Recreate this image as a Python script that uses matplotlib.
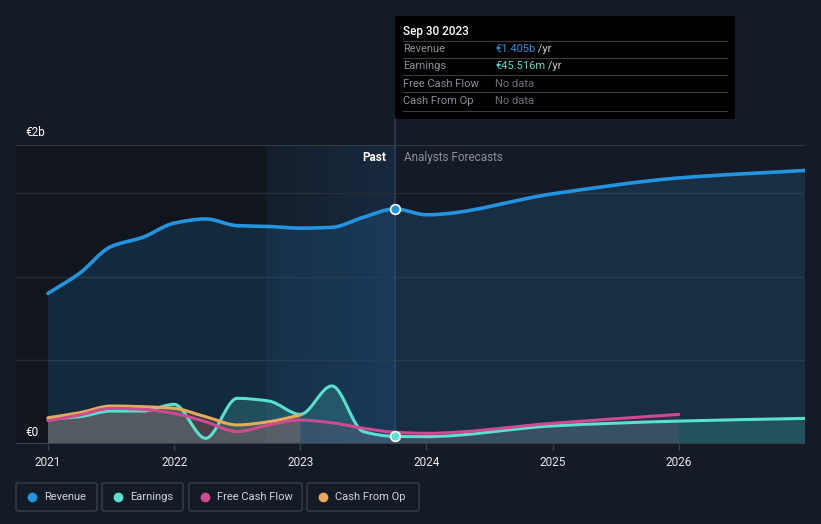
import numpy as np
import matplotlib
matplotlib.use("Agg")
import matplotlib.pyplot as plt
from matplotlib.path import Path
from matplotlib.patches import PathPatch, Rectangle, FancyBboxPatch

plt.rcParams['font.family'] = ['Roboto', 'DejaVu Sans']

# quarterly history (decimal years), values in € billions
past_x = [2021.0, 2021.25, 2021.5, 2021.75, 2022.0, 2022.25, 2022.5, 2022.75,
          2023.0, 2023.25, 2023.5, 2023.75]
revenue_past = [0.90, 1.02, 1.18, 1.235, 1.32, 1.345, 1.305, 1.30, 1.29, 1.295, 1.355, 1.405]
earnings_past = [0.149, 0.163, 0.197, 0.197, 0.237, 0.034, 0.273, 0.257, 0.177, 0.347, 0.074, 0.0455]

cfo_x = [2021.0, 2021.25, 2021.5, 2021.75, 2022.0, 2022.25, 2022.5, 2022.75, 2023.0]
cfo_past = [0.157, 0.187, 0.227, 0.223, 0.213, 0.163, 0.114, 0.133, 0.173]

fcf_x = [2021.0, 2021.25, 2021.5, 2021.75, 2022.0, 2022.25, 2022.5, 2022.75, 2023.0,
         2023.25, 2023.5, 2023.75, 2024.0, 2025.0, 2026.0]
fcf_vals = [0.139, 0.173, 0.213, 0.207, 0.183, 0.133, 0.074, 0.114, 0.143,
            0.127, 0.094, 0.070, 0.064, 0.124, 0.177]

# analyst forecasts
fc_x = [2023.75, 2024.0, 2025.0, 2026.0, 2027.0]
revenue_fc = [1.405, 1.37, 1.495, 1.59, 1.635]
earnings_fc = [0.0455, 0.044, 0.108, 0.137, 0.153]

years = [2021, 2022, 2023, 2024, 2025, 2026]

BG = '#151b26'
BLUE = '#2394df'
TEAL = '#58e1cf'
PINK = '#cf4a8f'
ORANGE = '#e9a95c'


def smooth_path(x, y, close=False):
    x = np.asarray(x, float)
    y = np.asarray(y, float)
    h = np.diff(x)
    d = np.diff(y) / h
    m = np.zeros_like(y)
    m[0], m[-1] = d[0], d[-1]
    for i in range(1, len(y) - 1):
        if d[i - 1] * d[i] <= 0:
            m[i] = 0
        else:
            w1 = 2 * h[i] + h[i - 1]
            w2 = h[i] + 2 * h[i - 1]
            m[i] = (w1 + w2) / (w1 / d[i - 1] + w2 / d[i])
    verts = [(x[0], y[0])]
    codes = [Path.MOVETO]
    for i in range(len(x) - 1):
        verts += [(x[i] + h[i] / 3, y[i] + m[i] * h[i] / 3),
                  (x[i + 1] - h[i] / 3, y[i + 1] - m[i + 1] * h[i] / 3),
                  (x[i + 1], y[i + 1])]
        codes += [Path.CURVE4] * 3
    if close:
        verts += [(x[-1], 0), (x[0], 0), (x[0], 0)]
        codes += [Path.LINETO, Path.LINETO, Path.CLOSEPOLY]
    return Path(verts, codes)


def draw_series(ax, x, y, color, fill_alpha=0.18, lw=2.2, z=3):
    ax.add_patch(PathPatch(smooth_path(x, y, close=True), facecolor=color,
                           alpha=fill_alpha, edgecolor='none', zorder=z - 1))
    ax.add_patch(PathPatch(smooth_path(x, y), facecolor='none', edgecolor=color,
                           lw=lw, zorder=z, capstyle='round'))


W, H = 821, 524
fig = plt.figure(figsize=(W / 100, H / 100), dpi=100, facecolor=BG)

x0 = 2021 - 32 / 126.3
x1 = 2027.0
ytop = 1.787
ax = fig.add_axes([16 / W, (H - 444) / H, (805 - 16) / W, (444 - 145) / H])
ax.set_facecolor(BG)
ax.set_xlim(x0, x1)
ax.set_ylim(0, ytop)
for s in ax.spines.values():
    s.set_visible(False)

# past region shading and highlight band
ax.add_patch(Rectangle((x0, 0), 2022.73 - x0, ytop, facecolor='#0f1218', alpha=0.55,
                       edgecolor='none', zorder=0))
band = np.zeros((1, 256, 4))
band[..., 0], band[..., 1], band[..., 2] = 0.14, 0.45, 0.75
band[..., 3] = np.linspace(0.04, 0.17, 256)
ax.imshow(band, extent=[2022.73, 2023.75, 0, ytop], aspect='auto', zorder=0.5,
          interpolation='bilinear')

for g in [0.5, 1.0, 1.5]:
    ax.axhline(g, color='#262d38', lw=1, zorder=0.8)
ax.axhline(ytop, color='#3a404b', lw=1.2, zorder=0.8)
ax.axhline(0, color='#3a404b', lw=1.5, zorder=6)

rev_x = past_x + fc_x[1:]
rev_y = revenue_past + revenue_fc[1:]
ern_x = past_x + fc_x[1:]
ern_y = earnings_past + earnings_fc[1:]

draw_series(ax, rev_x, rev_y, BLUE, fill_alpha=0.16, lw=2.6, z=3)
draw_series(ax, ern_x, ern_y, TEAL, fill_alpha=0.2, lw=2.2, z=3.2)
draw_series(ax, cfo_x, cfo_past, ORANGE, fill_alpha=0.18, lw=2.2, z=3.6)
draw_series(ax, fcf_x, fcf_vals, PINK, fill_alpha=0.12, lw=2.2, z=3.8)

ax.axvline(2023.75, color='#2b3d52', lw=1.2, zorder=1)
ax.plot([2023.75], [revenue_past[-1]], 'o', ms=7, mfc=BLUE, mec='white', mew=1.2, zorder=8)
ax.plot([2023.75], [earnings_past[-1]], 'o', ms=7, mfc=TEAL, mec='white', mew=1.2, zorder=8)

ax.set_xticks(years)
ax.set_xticklabels([str(y) for y in years])
ax.tick_params(axis='x', colors='#3a404b', length=4, width=1, pad=5, labelcolor='#e6e8eb', labelsize=8.5)
ax.set_yticks([])

ax.text(2023.75 - 0.07, 1.71, 'Past', color='white', fontsize=8.5, ha='right', va='center', fontweight='bold', zorder=9)
ax.text(2023.75 + 0.07, 1.71, 'Analysts Forecasts', color='#8a9099', fontsize=8.5, ha='left', va='center', zorder=9)

# overlay in pixel coordinates for labels, tooltip and legend
ov = fig.add_axes([0, 0, 1, 1])
ov.set_xlim(0, W)
ov.set_ylim(H, 0)
ov.axis('off')
ov.patch.set_alpha(0)

ov.text(25, 132, '€2b', color='white', fontsize=8.5, va='center')
ov.text(25, 432, '€0', color='white', fontsize=8.5, va='center')
ov.plot([395, 395], [119, 145], color='#2b3d52', lw=1.2)

ov.add_patch(Rectangle((395, 16), 340, 103, facecolor='black', edgecolor='none'))
ov.text(403, 31, 'Sep 30 2023', color='white', fontsize=8.5, va='center', fontweight='medium')
rows = ['Revenue', 'Earnings', 'Free Cash Flow', 'Cash From Op']
vals = [('€1.405b', BLUE), ('€45.516m', TEAL), ('No data', '#6c7079'), ('No data', '#6c7079')]
for i, (r, (v, c)) in enumerate(zip(rows, vals)):
    yy = 49 + i * 17.3
    ov.plot([403, 727], [yy - 8.5, yy - 8.5], color='#3a3d42', lw=0.8)
    ov.text(403, yy, r, color='#8a8f98', fontsize=8, va='center')
    t = ov.text(495, yy, v, color=c, fontsize=8, va='center')
    if not v.startswith('No'):
        ov.annotate(' /yr', xycoords=t, xy=(1, 0.5), va='center', color='#c8ccd2', fontsize=8)
ov.plot([403, 727], [111, 111], color='#3a3d42', lw=0.8)

legend = [('Revenue', BLUE, 16, 97), ('Earnings', TEAL, 102, 183),
          ('Free Cash Flow', PINK, 189, 302), ('Cash From Op', ORANGE, 307, 419)]
for name, c, lx, rx in legend:
    ov.add_patch(FancyBboxPatch((lx, 483), rx - lx, 28, boxstyle='round,pad=0,rounding_size=2',
                                facecolor='none', edgecolor='#3a404b', lw=1))
    ov.plot([lx + 16], [497], 'o', ms=6, color=c)
    ov.text(lx + 28, 497, name, color='#d0d3d8', fontsize=8, va='center')

fig.savefig('out.png', dpi=100, facecolor=BG)
